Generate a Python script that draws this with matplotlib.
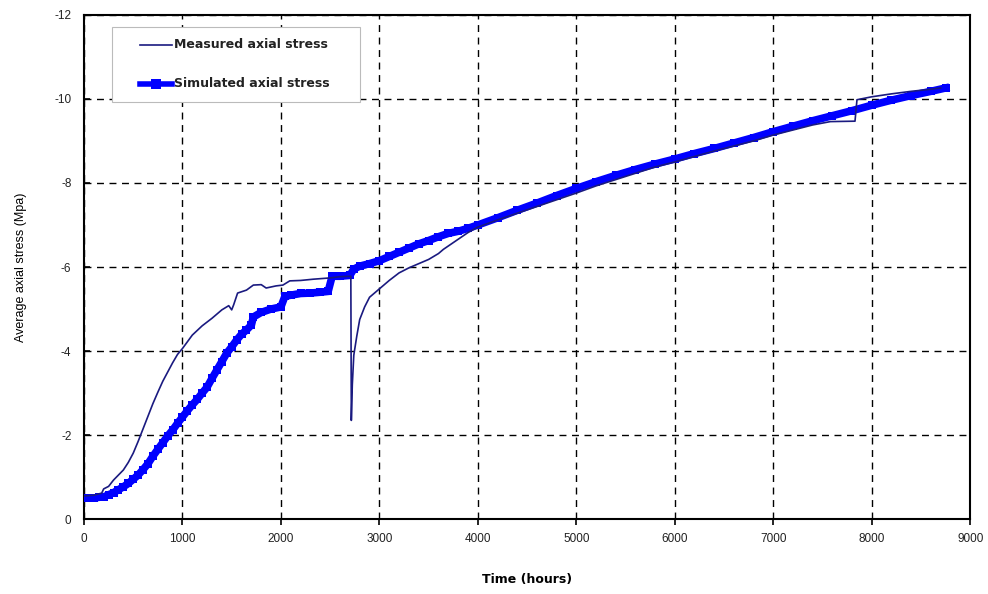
import matplotlib
matplotlib.use("Agg")
import matplotlib.pyplot as plt
from matplotlib.lines import Line2D
from matplotlib.patches import Rectangle

plt.rcParams['font.family'] = ['Liberation Sans', 'DejaVu Sans']

# Simulated axial stress (hours, MPa)
sim_t = [0, 50, 100, 150, 200, 250, 300, 350, 400, 450, 500, 550, 600, 650, 700,
         750, 800, 850, 900, 950, 1000, 1050, 1100, 1150, 1200, 1250, 1300, 1350,
         1400, 1450, 1500, 1550, 1600, 1650, 1700, 1720, 1800, 1900, 2000, 2040,
         2100, 2200, 2300, 2400, 2480, 2520, 2600, 2700, 2740, 2800, 2900, 3000,
         3100, 3200, 3300, 3400, 3500, 3600, 3700, 3800, 3900, 4000, 4200, 4400,
         4600, 4800, 5000, 5200, 5400, 5600, 5800, 6000, 6200, 6400, 6600, 6800,
         7000, 7200, 7400, 7600, 7800, 8000, 8200, 8400, 8600, 8750]
sim_s = [-0.50, -0.50, -0.50, -0.52, -0.53, -0.58, -0.63, -0.70, -0.77, -0.85,
         -0.95, -1.05, -1.18, -1.32, -1.50, -1.66, -1.82, -1.98, -2.12, -2.28,
         -2.43, -2.58, -2.72, -2.85, -3.00, -3.14, -3.35, -3.55, -3.75, -3.95,
         -4.10, -4.26, -4.40, -4.50, -4.62, -4.81, -4.92, -5.00, -5.05, -5.30,
         -5.33, -5.37, -5.38, -5.40, -5.42, -5.78, -5.78, -5.80, -5.95, -6.02,
         -6.08, -6.15, -6.25, -6.35, -6.45, -6.55, -6.63, -6.72, -6.80, -6.85,
         -6.92, -7.00, -7.17, -7.35, -7.52, -7.70, -7.87, -8.03, -8.18, -8.32,
         -8.45, -8.57, -8.70, -8.82, -8.95, -9.08, -9.22, -9.35, -9.48, -9.60,
         -9.72, -9.85, -9.97, -10.08, -10.18, -10.26]

# Measured axial stress (hours, MPa)
mea_t = [0, 100, 180, 200, 250, 300, 350, 400, 450, 500, 550, 600, 650, 700, 750,
         800, 850, 900, 950, 1000, 1100, 1200, 1300, 1400, 1470, 1500, 1520, 1560,
         1650, 1720, 1800, 1850, 1950, 2020, 2090, 2200, 2330, 2500, 2600, 2710,
         2715, 2725, 2740, 2770, 2800, 2850, 2900, 3000, 3100, 3200, 3300, 3400,
         3500, 3600, 3650, 3700, 3800, 3900, 4000, 4200, 4400, 4600, 4800, 5000,
         5200, 5400, 5600, 5800, 6000, 6200, 6400, 6600, 6800, 7000, 7200, 7400,
         7580, 7830, 7850, 8000, 8200, 8400, 8600, 8700]
mea_s = [-0.55, -0.57, -0.62, -0.72, -0.78, -0.93, -1.05, -1.17, -1.35, -1.57,
         -1.85, -2.15, -2.45, -2.75, -3.02, -3.28, -3.50, -3.72, -3.92, -4.06,
         -4.38, -4.60, -4.78, -4.98, -5.08, -4.98, -5.10, -5.38, -5.45, -5.57,
         -5.58, -5.50, -5.55, -5.57, -5.67, -5.68, -5.71, -5.74, -5.77, -5.78,
         -2.35, -3.20, -3.90, -4.35, -4.75, -5.05, -5.28, -5.48, -5.68, -5.86,
         -5.98, -6.08, -6.18, -6.32, -6.42, -6.50, -6.66, -6.82, -6.95, -7.12,
         -7.28, -7.44, -7.60, -7.76, -7.93, -8.08, -8.23, -8.38, -8.50, -8.63,
         -8.76, -8.88, -9.00, -9.14, -9.26, -9.38, -9.46, -9.47, -9.98, -10.05,
         -10.12, -10.18, -10.23, -10.26]

x_ticks = [0, 1000, 2000, 3000, 4000, 5000, 6000, 7000, 8000, 9000]
y_ticks = [0, -2, -4, -6, -8, -10, -12]
series_labels = ['Measured axial stress', 'Simulated axial stress']

fig = plt.figure(figsize=(9.88, 5.94), dpi=100)
ax = fig.add_axes([0.085, 0.126, 0.897, 0.849])

sim_color = '#0000FF'
mea_color = '#1A1A80'

ax.plot(sim_t, sim_s, color=sim_color, lw=5.5, marker='s', markersize=6,
        markeredgewidth=0, zorder=3, solid_joinstyle='miter')
ax.plot(mea_t, mea_s, color=mea_color, lw=1.2, zorder=4)

ax.set_xlim(0, 9000)
ax.set_ylim(0, -12)
ax.set_xticks(x_ticks)
ax.set_yticks(y_ticks)
ax.set_xticklabels([str(v) for v in x_ticks])
ax.set_yticklabels([str(v) for v in y_ticks])

ax.grid(True, color='black', linestyle=(0, (5, 4)), linewidth=1.0, zorder=1)
for s in ax.spines.values():
    s.set_color('black')
    s.set_linewidth(1.5)
ax.tick_params(axis='x', direction='out', length=4, width=1.2, labelsize=8.5,
               colors='black', pad=6)
ax.tick_params(axis='y', direction='in', length=4, width=1.2, labelsize=8.5,
               colors='black', pad=9)
for lab in ax.get_xticklabels() + ax.get_yticklabels():
    lab.set_color('#222222')

ax.set_xlabel('Time (hours)', fontsize=9, fontweight='bold', labelpad=20,
              family=['DejaVu Sans'])
ax.set_ylabel('Average axial stress (Mpa)', fontsize=9, labelpad=20)

# Legend box drawn in axes coordinates
ax.add_patch(Rectangle((0.0316, 0.827), 0.2799, 0.149, transform=ax.transAxes,
                       facecolor='white', edgecolor='#BBBBBB', lw=0.8, zorder=10,
                       clip_on=False))
row_y = [0.9405, 0.863]
ax.add_line(Line2D([0.0632, 0.0993], [row_y[0], row_y[0]], transform=ax.transAxes,
                   color=mea_color, lw=1.2, zorder=11, clip_on=False))
ax.add_line(Line2D([0.0632, 0.0993], [row_y[1], row_y[1]], transform=ax.transAxes,
                   color=sim_color, lw=4, zorder=11, clip_on=False))
ax.add_line(Line2D([0.081], [row_y[1]], transform=ax.transAxes, color=sim_color,
                   marker='s', markersize=7, markeredgewidth=0, zorder=11,
                   clip_on=False))
for yy, lab in zip(row_y, series_labels):
    ax.text(0.1015, yy, lab, transform=ax.transAxes, ha='left', va='center',
            fontsize=9, fontweight='bold', family=['DejaVu Sans'],
            color='#222222', zorder=12)

fig.savefig('out.png', dpi=100)
